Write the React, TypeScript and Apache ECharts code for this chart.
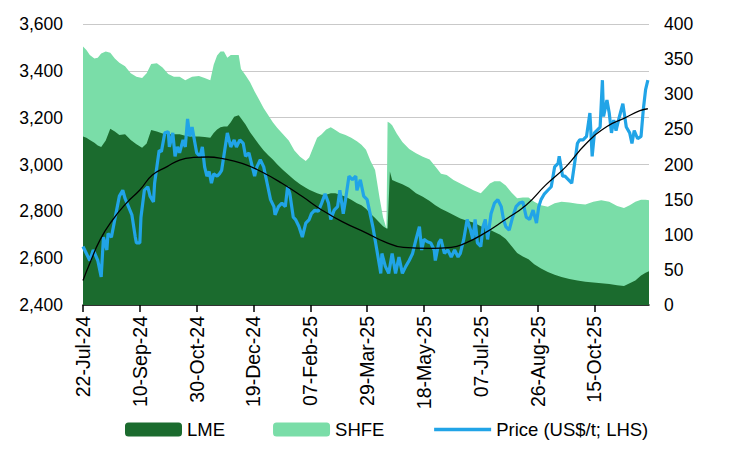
import React, { useEffect, useRef } from "react";
import * as echarts from "echarts";

// Day offsets are counted from 22-Jul-24.
const START_UTC = Date.UTC(2024, 6, 22);
const LAST_DAY = 498;
const TICK_DAYS = [0, 50, 100, 150, 200, 250, 300, 350, 400, 450];
const MONTHS = ["Jan", "Feb", "Mar", "Apr", "May", "Jun", "Jul", "Aug", "Sep", "Oct", "Nov", "Dec"];

// Exchange stocks (right axis)
const stockDays = [
  0, 3, 6, 10, 13, 16, 20, 24, 28, 32, 37, 42, 47, 52, 56, 60, 65, 70, 75, 80, 85, 90, 96, 102, 107, 112,
  115, 118, 121, 124, 127, 130, 133, 137, 139, 143, 147, 151, 155, 159, 163, 167, 171, 176, 181, 186, 191,
  196, 199, 202, 206, 210, 214, 218, 222, 226, 231, 236, 241, 245, 249, 253, 257, 261, 264, 267, 268, 270,
  272, 276, 281, 287, 293, 299, 305, 310, 315, 320, 326, 332, 338, 344, 350, 354, 358, 362, 367, 372, 377,
  382, 387, 392, 397, 403, 409, 415, 421, 428, 435, 442, 449, 456, 463, 470, 476, 481, 486, 491, 495, 498,
];
const lmeStocks = [
  240, 238, 235, 231, 227, 225, 234, 251, 247, 242, 243, 235, 229, 224, 230, 249, 247, 244, 243, 243, 243, 241,
  240, 240, 239, 238, 245, 250, 253, 254, 254, 260, 268, 270, 266, 257, 246, 237, 228, 220, 213, 207, 200, 192,
  185, 178, 172, 167, 164, 162, 159, 157, 157, 159, 159, 157, 154, 150, 145, 142, 137, 130, 124, 117, 112, 109,
  109, 190, 178, 175, 172, 167, 159, 154, 148, 142, 137, 133, 128, 123, 120, 117, 112, 110, 107, 104, 100, 94,
  84, 74, 69, 65, 58, 52, 47, 43, 40, 37, 35, 33, 32, 31, 30, 28, 27, 31, 35, 42, 46, 48,
];
const shfeStocks = [
  128, 125, 121, 120, 125, 133, 127, 108, 104, 103, 97, 95, 96, 99, 100, 94, 97, 94, 86, 82, 82, 79, 85, 86,
  84, 82, 97, 105, 108, 107, 98, 96, 88, 86, 70, 70, 71, 67, 64, 60, 57, 53, 52, 51, 49, 42, 39, 38, 46, 60,
  79, 86, 93, 94, 90, 88, 88, 88, 88, 86, 84, 75, 68, 35, 13, 0, 152, 69, 78, 69, 60, 55, 57, 57, 59, 55, 50,
  52, 50, 50, 48, 46, 47, 56, 66, 72, 76, 76, 76, 78, 84, 88, 89, 90, 93, 102, 107, 109, 109, 110, 115, 118,
  117, 113, 111, 111, 112, 108, 104, 101,
];

// Price, US$/t (left axis)
const priceDays = [
  0, 3, 6, 9, 13, 16, 18, 21, 22, 25, 28, 29, 32, 35, 37, 40, 43, 46, 47, 50, 51, 54, 57, 59, 62, 63, 65, 67,
  69, 72, 75, 76, 79, 81, 83, 85, 88, 90, 92, 94, 96, 98, 100, 103, 105, 107, 109, 111, 113, 115, 118, 120,
  122, 127, 130, 133, 135, 138, 141, 143, 146, 149, 151, 153, 156, 159, 162, 165, 168, 169, 172, 175, 178,
  180, 182, 185, 187, 190, 193, 196, 199, 201, 204, 207, 210, 213, 216, 218, 221, 224, 226, 229, 231, 234,
  237, 240, 241, 244, 247, 250, 255, 258, 261, 262, 263, 266, 269, 272, 275, 278, 281, 284, 287, 290, 293,
  296, 298, 300, 303, 306, 309, 310, 313, 315, 318, 321, 324, 327, 330, 332, 335, 338, 341, 343, 345, 347,
  350, 352, 354, 356, 359, 362, 365, 368, 370, 372, 375, 378, 381, 384, 387, 390, 393, 396, 399, 401, 403,
  406, 409, 412, 415, 418, 419, 422, 424, 427, 430, 433, 435, 437, 440, 443, 446, 448, 450, 452, 455, 457,
  458, 461, 463, 465, 467, 469, 472, 475, 478, 481, 483, 485, 488, 491, 493, 495, 497,
];
const priceValues = [
  2650, 2620, 2590, 2635, 2590, 2520, 2690, 2635, 2705, 2690, 2765, 2790, 2865, 2890, 2855, 2820, 2785, 2690,
  2665, 2665, 2775, 2890, 2905, 2865, 2840, 2920, 2990, 3060, 3055, 3135, 3140, 3075, 3135, 3035, 3075, 3050,
  3105, 3075, 3195, 3120, 3160, 3105, 3050, 3035, 3075, 2990, 2950, 2970, 2920, 2960, 2950, 2960, 2975, 3135,
  3075, 3105, 3075, 3105, 3090, 3035, 3050, 2990, 2950, 2990, 3020, 2990, 2920, 2850, 2820, 2785, 2820, 2835,
  2820, 2905, 2875, 2775, 2765, 2735, 2690, 2750, 2765, 2790, 2805, 2800, 2835, 2875, 2835, 2765, 2805, 2820,
  2890, 2790, 2850, 2950, 2935, 2950, 2890, 2935, 2865, 2850, 2735, 2650, 2565, 2535, 2620, 2565, 2535, 2620,
  2535, 2605, 2535, 2565, 2590, 2620, 2680, 2735, 2635, 2680, 2670, 2665, 2635, 2590, 2665, 2680, 2620, 2635,
  2605, 2635, 2605, 2620, 2680, 2765, 2720, 2680, 2765, 2665, 2650, 2735, 2765, 2680, 2790, 2835, 2850, 2820,
  2765, 2735, 2720, 2775, 2820, 2835, 2840, 2775, 2765, 2805, 2750, 2820, 2850, 2875, 2890, 2905, 2990, 3005,
  3035, 2950, 2950, 2935, 2920, 3020, 3090, 3105, 3105, 3120, 3220, 3035, 3135, 3145, 3160, 3360, 3205, 3275,
  3220, 3135, 3190, 3145, 3205, 3260, 3160, 3135, 3090, 3145, 3110, 3120, 3235, 3320, 3360,
];

// Fitted price trend (left axis)
const trendDays = [
  0, 6, 15, 26, 38, 50, 61, 74, 85, 97, 110, 122, 140, 157, 175, 193, 210, 228, 250, 265, 282, 306, 324, 336,
  353, 371, 390, 407, 425, 443, 461, 476, 490, 497,
];
const trendValues = [
  2505, 2578, 2678, 2763, 2834, 2891, 2955, 2991, 3019, 3030, 3032, 3026, 3005, 2969, 2920, 2863, 2806, 2756,
  2706, 2671, 2646, 2642, 2646, 2663, 2706, 2763, 2827, 2912, 2991, 3091, 3162, 3197, 3230, 3238,
];

const SERIES_NAMES = ["LME", "SHFE", "Price (US$/t; LHS)"];
const COLORS = { lme: "#1b6b2e", shfe: "#7adda8", price: "#21a4e7", trend: "#000000" };
const FONT = "'Liberation Sans', Arial, Helvetica, sans-serif";

const pairs = (xs: number[], ys: number[]) => xs.map((x, i) => [x, ys[i]]);

function dayLabel(day: number): string {
  const d = new Date(START_UTC + day * 86400000);
  const dd = String(d.getUTCDate()).padStart(2, "0");
  const yy = String(d.getUTCFullYear()).slice(2);
  return `${dd}-${MONTHS[d.getUTCMonth()]}-${yy}`;
}

export default function App() {
  const ref = useRef<HTMLDivElement>(null);

  useEffect(() => {
    if (!ref.current) return;
    const chart = echarts.init(ref.current, undefined, { renderer: "svg" });

    // SHFE sits on top of LME: its area is drawn up to the combined total,
    // and the LME area is painted over its lower part.
    const combinedStocks = lmeStocks.map((v, i) => v + shfeStocks[i]);

    const areaSeries = (name: string, color: string, values: number[], z: number) => ({
      name,
      type: "line",
      yAxisIndex: 1,
      symbol: "none",
      showSymbol: false,
      itemStyle: { color },
      lineStyle: { width: 0, color },
      areaStyle: { color, opacity: 1 },
      data: pairs(stockDays, values),
      z,
    });

    chart.setOption({
      animation: false,
      textStyle: { fontFamily: FONT, color: "#000" },
      grid: { left: 83, right: 87, top: 24, bottom: 144, containLabel: false },
      legend: {
        left: 125,
        top: 420,
        padding: 0,
        itemWidth: 57,
        itemHeight: 14,
        itemGap: 48,
        textStyle: { fontFamily: FONT, fontSize: 18.5, color: "#000" },
        data: [
          { name: SERIES_NAMES[0], icon: "roundRect" },
          { name: SERIES_NAMES[1], icon: "roundRect" },
          { name: SERIES_NAMES[2], itemStyle: { opacity: 0 }, lineStyle: { width: 3.5, color: COLORS.price } },
        ],
      },
      xAxis: {
        type: "value",
        min: 0,
        max: LAST_DAY,
        interval: 50,
        axisLine: { show: true, onZero: false, lineStyle: { color: "#000", width: 1.5 } },
        axisTick: { show: true, length: 7, lineStyle: { color: "#000", width: 1.5 }, customValues: TICK_DAYS },
        axisLabel: {
          rotate: 90,
          margin: 11,
          fontSize: 19.5,
          color: "#000",
          fontFamily: FONT,
          customValues: TICK_DAYS,
          formatter: (v: number) => dayLabel(v),
        },
        splitLine: { show: false },
      },
      yAxis: [
        {
          type: "value",
          position: "left",
          min: 2400,
          max: 3600,
          interval: 200,
          axisLine: { show: false },
          axisTick: { show: false },
          axisLabel: {
            margin: 20,
            fontSize: 17.5,
            color: "#000",
            fontFamily: FONT,
            formatter: (v: number) => v.toLocaleString("en-US"),
          },
          splitLine: { show: true, lineStyle: { color: "#c9c9c9", width: 1.2 } },
        },
        {
          type: "value",
          position: "right",
          min: 0,
          max: 400,
          interval: 50,
          axisLine: { show: false },
          axisTick: { show: false },
          axisLabel: { margin: 15, fontSize: 17.5, color: "#000", fontFamily: FONT },
          splitLine: { show: false },
        },
      ],
      series: [
        areaSeries(SERIES_NAMES[1], COLORS.shfe, combinedStocks, 1),
        areaSeries(SERIES_NAMES[0], COLORS.lme, lmeStocks, 2),
        {
          name: SERIES_NAMES[2],
          type: "line",
          yAxisIndex: 0,
          symbol: "none",
          showSymbol: false,
          itemStyle: { color: COLORS.price },
          lineStyle: { color: COLORS.price, width: 3.2 },
          data: pairs(priceDays, priceValues),
          z: 3,
        },
        {
          name: "Trend",
          type: "line",
          yAxisIndex: 0,
          symbol: "none",
          showSymbol: false,
          smooth: true,
          itemStyle: { color: COLORS.trend },
          lineStyle: { color: COLORS.trend, width: 1.3 },
          data: pairs(trendDays, trendValues),
          z: 4,
        },
      ],
    });
    return () => chart.dispose();
  }, []);

  return (
    <div
      ref={ref}
      style={{ position: "fixed", left: 0, top: 0, width: 736, height: 449, background: "#fff" }}
    />
  );
}
